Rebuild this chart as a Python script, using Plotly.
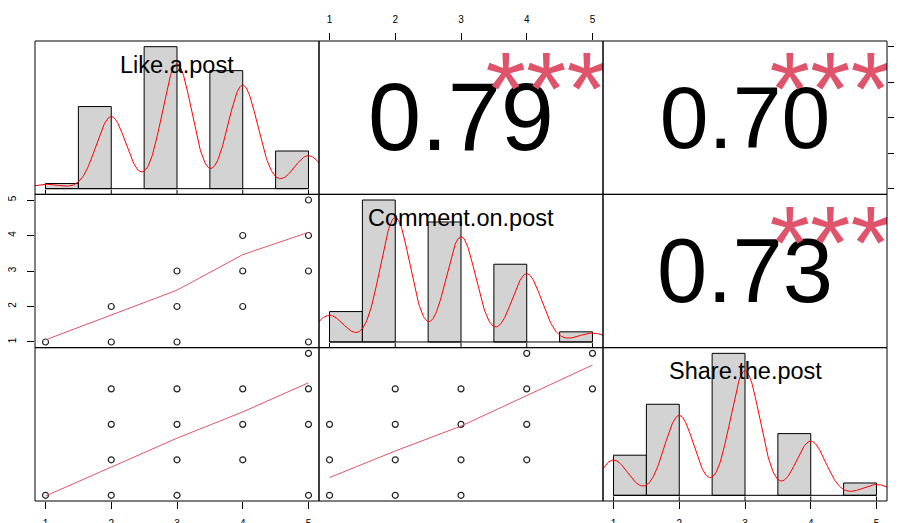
import numpy as np
import plotly.graph_objects as go

# ---------------- data ----------------
VAR_NAMES = ["Like.a.post", "Comment.on.post", "Share.the.post"]
LEVELS = [1, 2, 3, 4, 5]
LIKE_COUNTS = [3, 48, 83, 69, 22]
COMMENT_COUNTS = [18, 84, 71, 46, 6]
SHARE_COUNTS = [26, 59, 92, 40, 8]
HIST_BREAKS = [1.0, 1.5, 2.0, 2.5, 3.0, 3.5, 4.0, 4.5, 5.0]

# distinct (x, y) pairs visible in the scatter panels
LC_X = [1, 2, 2, 3, 3, 3, 4, 4, 4, 5, 5, 5, 5]          # Like.a.post
LC_Y = [1, 1, 2, 1, 2, 3, 2, 3, 4, 1, 3, 4, 5]          # Comment.on.post
LS_X = [1, 2, 2, 2, 2, 3, 3, 3, 3, 4, 4, 4, 5, 5, 5, 5]  # Like.a.post
LS_Y = [1, 1, 2, 3, 4, 1, 2, 3, 4, 2, 3, 4, 1, 3, 4, 5]  # Share.the.post
CS_X = [1, 1, 1, 2, 2, 2, 2, 3, 3, 3, 3, 4, 4, 4, 4, 5, 5]  # Comment.on.post
CS_Y = [1, 2, 3, 1, 2, 3, 4, 1, 2, 3, 4, 2, 3, 4, 5, 4, 5]  # Share.the.post

# lowess smooth lines
LOWESS_X = [1, 2, 3, 4, 5]
LOWESS_LC = [1.06, 1.76, 2.46, 3.46, 4.09]
LOWESS_LS = [0.98, 1.80, 2.61, 3.35, 4.17]
LOWESS_CS = [1.50, 2.25, 2.95, 3.80, 4.67]

CORR_VALUES = [0.79, 0.70, 0.73]      # Like-Comment, Like-Share, Comment-Share
CORR_STARS = ["***", "***", "***"]
AXIS_TICKS = [1, 2, 3, 4, 5]

# ---------------- style ----------------
# the page body adds an 8px offset, so the figure is 8px smaller than the window
W, H = 894, 515
ML, MR, MT, MB = 27, 15, 33, 22
AX_RANGE = [0.84, 5.16]
FONT = "Liberation Sans, Arial, sans-serif"
SMOOTH_COLOR = "#DF536B"
STAR_COLOR = "#DF536B"
BASE_SIZE = 114
STAR_SIZE = 104
STAR_X_FRAC = 0.8
STAR_Y_FRAC = 0.62
NUM_Y_FRAC = 0.445
LABEL_Y_FRAC = 0.846


def aname(letter, k):
    return f"{letter}axis" + ("" if k == 1 else str(k))


def aref(letter, k):
    return letter + ("" if k == 1 else str(k))


def frac(f):
    return AX_RANGE[0] + f * (AX_RANGE[1] - AX_RANGE[0])


tick_style = dict(ticks="outside", ticklen=7, tickwidth=1, tickcolor="black",
                  tickvals=AXIS_TICKS, ticktext=[str(t) for t in AXIS_TICKS],
                  tickfont=dict(size=10, color="black", family=FONT))

layout = {}
shapes = []
for i in range(3):
    for j in range(3):
        k = i * 3 + j + 1
        base = dict(showgrid=False, zeroline=False, showline=False,
                    ticks="", showticklabels=False, fixedrange=True, automargin=False)
        layout[aname("x", k)] = dict(base, domain=[j / 3, (j + 1) / 3], range=AX_RANGE,
                                     anchor=aref("y", k))
        layout[aname("y", k)] = dict(base, domain=[1 - (i + 1) / 3, 1 - i / 3], range=AX_RANGE,
                                     anchor=aref("x", k))
        shapes.append(dict(type="rect", xref=f"{aref('x', k)} domain", yref=f"{aref('y', k)} domain",
                           x0=0, x1=1, y0=0, y1=1, layer="above",
                           line=dict(color="black", width=1), fillcolor="rgba(0,0,0,0)"))

# axes with ticks (R pairs convention)
layout["xaxis2"].update(tick_style, side="top", showticklabels=True, ticklabelstandoff=6)
layout["yaxis3"].update(tick_style, side="right", showticklabels=False)
layout["yaxis4"].update(tick_style, side="left", showticklabels=True, tickangle=-90,
                        ticklabelstandoff=7)
layout["xaxis7"].update(tick_style, side="bottom", showticklabels=True, ticklabelstandoff=6)
layout["xaxis9"].update(tick_style, side="bottom", showticklabels=True, ticklabelstandoff=6)
layout["yaxis10"] = dict(tick_style, overlaying="y9", anchor="x9", side="right",
                         range=AX_RANGE, showticklabels=False, showline=False,
                         showgrid=False, zeroline=False, fixedrange=True, automargin=False)

fig = go.Figure()

# ---------------- diagonal: histograms + density + rug ----------------
breaks = np.array(HIST_BREAKS)
annotations = []
for d, counts in enumerate([LIKE_COUNTS, COMMENT_COUNTS, SHARE_COUNTS]):
    k = d * 3 + d + 1
    xr, yr = aref("x", k), aref("y", k)
    vals = np.repeat(LEVELS, counts).astype(float)
    n = len(vals)
    idx = np.clip(np.searchsorted(breaks, vals, side="left") - 1, 0, len(breaks) - 2)
    bin_counts = np.bincount(idx, minlength=len(breaks) - 1)
    widths = np.diff(breaks)
    dens_bars = bin_counts / (n * widths)
    centers = (breaks[:-1] + breaks[1:]) / 2
    ymax = dens_bars.max()
    ylo, yhi = -0.04 * ymax, 1.04 * ymax
    layout[aname("y", k)]["range"] = [ylo, yhi]

    nz = bin_counts > 0
    fig.add_trace(go.Bar(x=centers[nz], y=dens_bars[nz], width=widths[nz],
                         marker=dict(color="#D3D3D3", line=dict(color="black", width=1)),
                         xaxis=xr, yaxis=yr, hoverinfo="skip"))
    fig.add_trace(go.Scatter(x=[breaks[0], breaks[-1]], y=[0, 0], mode="lines",
                             line=dict(color="black", width=1), xaxis=xr, yaxis=yr,
                             hoverinfo="skip"))
    # kernel density (bw.nrd0)
    sd = vals.std(ddof=1)
    q75, q25 = np.percentile(vals, [75, 25])
    bw = 0.9 * min(sd, (q75 - q25) / 1.34) * n ** -0.2
    grid = np.linspace(vals.min() - 3 * bw, vals.max() + 3 * bw, 512)
    kde = np.exp(-0.5 * ((grid[:, None] - vals[None, :]) / bw) ** 2).sum(1) / (n * bw * np.sqrt(2 * np.pi))
    fig.add_trace(go.Scatter(x=grid, y=kde, mode="lines", line=dict(color="red", width=1),
                             xaxis=xr, yaxis=yr, hoverinfo="skip"))
    # rug
    rx, ry = [], []
    tick_h = 0.03 * (yhi - ylo)
    for v in sorted(set(vals)):
        rx += [v, v, None]
        ry += [ylo, ylo + tick_h, None]
    fig.add_trace(go.Scatter(x=rx, y=ry, mode="lines", line=dict(color="black", width=1),
                             xaxis=xr, yaxis=yr, hoverinfo="skip"))
    annotations.append(dict(xref=f"{xr} domain", yref=f"{yr} domain", x=0.5, y=LABEL_Y_FRAC,
                            text=VAR_NAMES[d], showarrow=False, xanchor="center", yanchor="middle",
                            font=dict(size=23.5, color="black", family=FONT)))

# ---------------- lower: scatter + smooth ----------------
for k, xs, ys, sm in [(4, LC_X, LC_Y, LOWESS_LC), (7, LS_X, LS_Y, LOWESS_LS), (8, CS_X, CS_Y, LOWESS_CS)]:
    xr, yr = aref("x", k), aref("y", k)
    fig.add_trace(go.Scatter(x=xs, y=ys, mode="markers",
                             marker=dict(symbol="circle-open", size=6, color="#222222",
                                         line=dict(width=1.2)),
                             xaxis=xr, yaxis=yr, hoverinfo="skip", cliponaxis=False))
    fig.add_trace(go.Scatter(x=LOWESS_X, y=sm, mode="lines", line=dict(color=SMOOTH_COLOR, width=1),
                             xaxis=xr, yaxis=yr, hoverinfo="skip"))

# ---------------- upper: correlation text ----------------
for k, r, s in zip([2, 3, 6], CORR_VALUES, CORR_STARS):
    xr, yr = aref("x", k), aref("y", k)
    fig.add_trace(go.Scatter(x=[frac(0.5)], y=[frac(NUM_Y_FRAC)], mode="text", text=[f"{r:.2f}"],
                             textposition="middle center", cliponaxis=True,
                             textfont=dict(size=BASE_SIZE * (abs(r) + 0.3) / 1.3, color="black", family=FONT),
                             xaxis=xr, yaxis=yr, hoverinfo="skip"))
    fig.add_trace(go.Scatter(x=[frac(STAR_X_FRAC)], y=[frac(STAR_Y_FRAC)], mode="text", text=[s],
                             textposition="middle center", cliponaxis=True,
                             textfont=dict(size=STAR_SIZE, color=STAR_COLOR, family=FONT),
                             xaxis=xr, yaxis=yr, hoverinfo="skip"))

fig.update_layout(**layout)
fig.update_layout(width=W, height=H, margin=dict(l=ML, r=MR, t=MT, b=MB, pad=0),
                  template="none", showlegend=False, hovermode=False,
                  paper_bgcolor="white", plot_bgcolor="white",
                  font=dict(family=FONT, color="black"), annotations=annotations, shapes=shapes)

fig.write_html("out.html")
